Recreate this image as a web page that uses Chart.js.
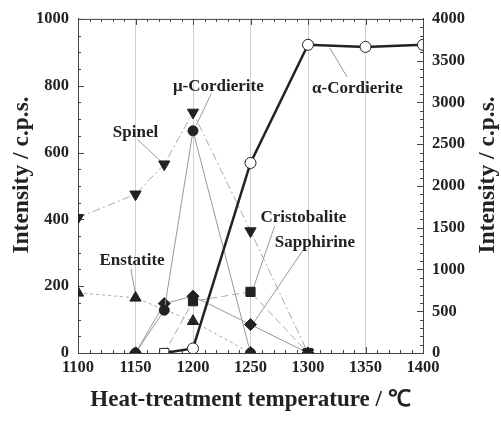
<!DOCTYPE html>
<html>
<head>
  <meta charset="utf-8">
  <title>Intensity vs heat-treatment temperature</title>
  <script src="https://cdn.jsdelivr.net/npm/chart.js@4.4.1/dist/chart.umd.min.js"></script>
  <style>
    body { margin: 0; background: #fff; }
    #box { width: 501px; height: 421px; }
  </style>
</head>
<body>
<div id="box"><canvas id="chart" width="501" height="421"></canvas></div>
<script>
  // values (temperature in deg C, intensity in c.p.s.)
  const alphaT = [1175, 1200, 1250, 1300, 1350, 1400];
  const alphaI = [0, 55, 2275, 3690, 3665, 3690];   // right axis
  const spinelT = [1100, 1150, 1175, 1200, 1250, 1300];
  const spinelI = [405, 475, 565, 720, 365, 0];
  const muT = [1150, 1175, 1200, 1250];
  const muI = [0, 128, 665, 0];
  const cristT = [1175, 1200, 1250, 1300];
  const cristI = [0, 155, 183, 0];
  const sapphT = [1150, 1175, 1200, 1250, 1300];
  const sapphI = [0, 148, 170, 85, 0];
  const enstT = [1100, 1150, 1200, 1250];
  const enstI = [180, 165, 95, 0];

  const xTitle = 'Heat-treatment temperature / \u2103';
  const yTitle = 'Intensity / c.p.s.';

  // phase labels with their leader lines, in data units
  const notes = [
    { text: '\u03bc-Cordierite', at: [1222, 797], from: [1216, 777], to: [1203, 683], axis: 'y' },
    { text: 'Spinel', at: [1150, 661], from: [1152, 638], to: [1173, 571], axis: 'y' },
    { text: '\u03b1-Cordierite', at: [1343, 791], from: [1334, 826], to: [1319, 913], axis: 'y' },
    { text: 'Enstatite', at: [1147, 276], from: [1146, 252], to: [1149.5, 185], axis: 'y' },
    { text: 'Cristobalite', at: [1296, 406], from: [1271, 380], to: [1252, 190], axis: 'y' },
    { text: 'Sapphirine', at: [1306, 330], from: [1295, 304], to: [1253, 92], axis: 'y' }
  ];

  const serif = "'Liberation Serif', 'Times New Roman', serif";
  const ink = '#222';

  function pts(xs, ys) {
    return xs.map((x, i) => ({ x: x, y: ys[i] }));
  }

  // frame, inward ticks, phase labels and the two side titles
  const decor = {
    id: 'decor',
    beforeDatasetsDraw(chart) {
      const ctx = chart.ctx, a = chart.chartArea;
      const sx = chart.scales.x, sy = chart.scales.y, sy1 = chart.scales.y1;
      ctx.save();
      ctx.strokeStyle = '#444';
      ctx.lineWidth = 1;
      ctx.beginPath();
      for (let v = 1100; v <= 1400; v += 10) {
        const px = Math.round(sx.getPixelForValue(v)) + 0.5;
        const len = v % 50 === 0 ? 6 : 3;
        ctx.moveTo(px, a.bottom); ctx.lineTo(px, a.bottom - len);
        ctx.moveTo(px, a.top); ctx.lineTo(px, a.top + len);
      }
      for (let v = 0; v <= 1000; v += 50) {
        const py = Math.round(sy.getPixelForValue(v)) + 0.5;
        const len = v % 200 === 0 ? 6 : 3;
        ctx.moveTo(a.left, py); ctx.lineTo(a.left + len, py);
      }
      for (let v = 0; v <= 4000; v += 100) {
        const py = Math.round(sy1.getPixelForValue(v)) + 0.5;
        const len = v % 500 === 0 ? 6 : 3;
        ctx.moveTo(a.right, py); ctx.lineTo(a.right - len, py);
      }
      ctx.moveTo(a.left, a.top + 0.5); ctx.lineTo(a.right, a.top + 0.5);
      ctx.stroke();

      // leader lines
      ctx.strokeStyle = '#999';
      ctx.beginPath();
      notes.forEach(n => {
        const s = chart.scales[n.axis];
        ctx.moveTo(sx.getPixelForValue(n.from[0]), s.getPixelForValue(n.from[1]));
        ctx.lineTo(sx.getPixelForValue(n.to[0]), s.getPixelForValue(n.to[1]));
      });
      ctx.stroke();
      ctx.restore();
    },
    afterDraw(chart) {
      const ctx = chart.ctx, a = chart.chartArea;
      const sx = chart.scales.x, sy = chart.scales.y, sy1 = chart.scales.y1;
      ctx.save();
      ctx.fillStyle = ink;
      ctx.font = 'bold 17px ' + serif;
      ctx.textAlign = 'center';
      ctx.textBaseline = 'middle';
      notes.forEach(n => {
        const s = chart.scales[n.axis];
        ctx.fillText(n.text, sx.getPixelForValue(n.at[0]), s.getPixelForValue(n.at[1]));
      });
      // both side titles read bottom-to-top
      ctx.font = 'bold 23.5px ' + serif;
      const midY = (a.top + a.bottom) / 2 - 11;
      [sy.left + 22, sy1.right - 13].forEach(tx => {
        ctx.save();
        ctx.translate(tx, midY);
        ctx.rotate(-Math.PI / 2);
        ctx.fillText(yTitle, 0, 0);
        ctx.restore();
      });
      ctx.restore();
    }
  };

  const tickFont = { family: serif, size: 16.5, weight: 'bold' };
  const plain = v => String(v);

  new Chart(document.getElementById('chart'), {
    type: 'line',
    data: {
      datasets: [
        {
          label: '\u03b1-Cordierite', data: pts(alphaT, alphaI), yAxisID: 'y1',
          borderColor: ink, borderWidth: 2.5,
          pointStyle: ['rect', 'circle', 'circle', 'circle', 'circle', 'circle'],
          pointRadius: [6.5, 5.5, 5.5, 5.5, 5.5, 5.5],
          pointBackgroundColor: '#fff', pointBorderColor: ink, pointBorderWidth: 1
        },
        {
          label: 'Spinel', data: pts(spinelT, spinelI), yAxisID: 'y',
          borderColor: '#aaa', borderWidth: 1, borderDash: [8, 3, 2, 3],
          pointStyle: 'triangle', rotation: 180, pointRadius: 6.5,
          pointBackgroundColor: ink, pointBorderColor: ink
        },
        {
          label: '\u03bc-Cordierite', data: pts(muT, muI), yAxisID: 'y',
          borderColor: '#999', borderWidth: 1,
          pointStyle: 'circle', pointRadius: 5,
          pointBackgroundColor: ink, pointBorderColor: ink
        },
        {
          label: 'Cristobalite', data: pts(cristT, cristI), yAxisID: 'y',
          borderColor: '#aaa', borderWidth: 1, borderDash: [7, 4],
          pointStyle: 'rect', pointRadius: [0, 6.5, 6.5, 6.5],
          pointBackgroundColor: ink, pointBorderColor: ink
        },
        {
          label: 'Sapphirine', data: pts(sapphT, sapphI), yAxisID: 'y',
          borderColor: '#999', borderWidth: 1,
          pointStyle: 'rectRot', pointRadius: 6,
          pointBackgroundColor: ink, pointBorderColor: ink
        },
        {
          label: 'Enstatite', data: pts(enstT, enstI), yAxisID: 'y',
          borderColor: '#aaa', borderWidth: 1, borderDash: [3, 3],
          pointStyle: 'triangle', pointRadius: 6.5,
          pointBackgroundColor: ink, pointBorderColor: ink
        }
      ]
    },
    options: {
      responsive: false,
      animation: false,
      layout: { padding: { top: 8, left: 0, right: 0, bottom: 0 } },
      plugins: { legend: { display: false }, tooltip: { enabled: false } },
      elements: { line: { tension: 0 } },
      scales: {
        x: {
          type: 'linear', min: 1100, max: 1400,
          afterFit: s => { s.height = 68; },
          ticks: { stepSize: 50, color: ink, font: tickFont, padding: 5, maxRotation: 0, callback: plain },
          grid: { color: '#d0d0d0', drawTicks: false },
          border: { display: true, color: '#444' },
          title: {
            display: true, text: xTitle, color: ink,
            font: { family: serif, size: 23, weight: 'bold' },
            padding: { top: 0, bottom: 7 }
          }
        },
        y: {
          position: 'left', min: 0, max: 1000,
          afterFit: s => { s.width = 78; },
          ticks: { stepSize: 200, color: ink, font: tickFont, padding: 9, callback: plain },
          grid: { drawOnChartArea: false, drawTicks: false },
          border: { display: true, color: '#444' }
        },
        y1: {
          position: 'right', min: 0, max: 4000,
          afterFit: s => { s.width = 78; },
          ticks: { stepSize: 500, color: ink, font: tickFont, padding: 9, callback: plain },
          grid: { drawOnChartArea: false, drawTicks: false },
          border: { display: true, color: '#444' }
        }
      }
    },
    plugins: [decor]
  });
</script>
</body>
</html>
